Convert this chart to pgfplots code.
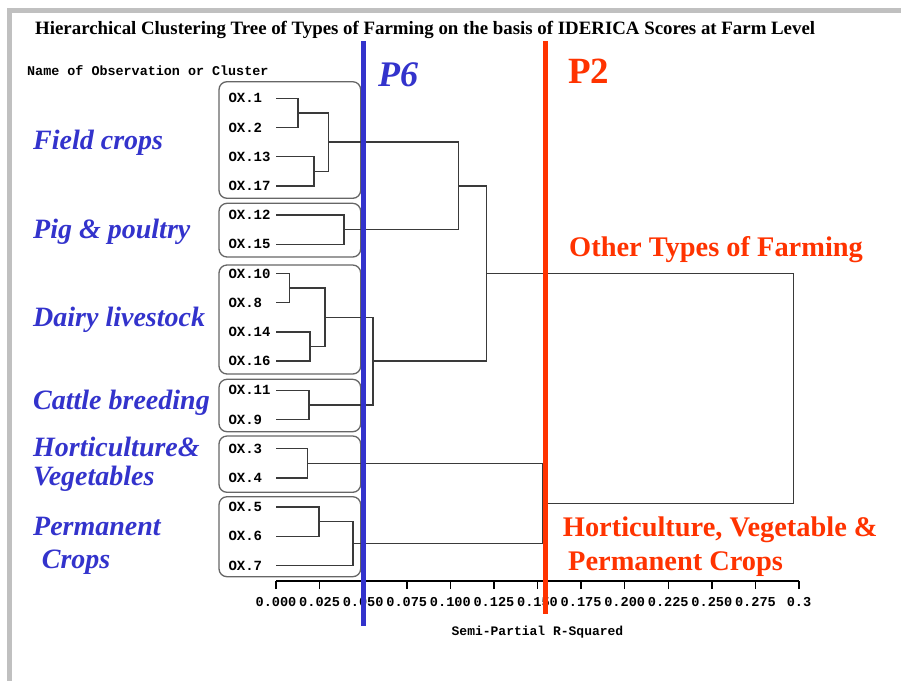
\documentclass[border=0pt]{standalone}
\usepackage{pgfplots}
\pgfplotsset{compat=1.18}
\usepackage{fontspec}
\setmainfont{Liberation Serif}
\newfontfamily\monof{Liberation Mono}
\definecolor{lblue}{HTML}{3333CC}
\definecolor{lred}{HTML}{FF3300}
\definecolor{framegray}{HTML}{C0C0C0}
\definecolor{tree}{HTML}{3A3A3A}
\pgfplotsset{dend/.style={tree, line width=1.4pt, mark=none, solid}}
\begin{document}
\begin{tikzpicture}
\begin{scope}[x=1pt,y=1pt]
\useasboundingbox (0,0) rectangle (901,-681);
\fill[white] (0,0) rectangle (901,-681);
\fill[framegray] (7,-8) rectangle (901,-13);
\fill[framegray] (7,-8) rectangle (12,-681);
\node[anchor=base west, inner sep=0, font=\fontsize{18.85}{18.85}\selectfont\bfseries] at (35,-34) {Hierarchical Clustering Tree of Types of Farming on the basis of IDERICA Scores at Farm Level};
\node[anchor=west, inner sep=0, font=\monof\bfseries\fontsize{13.4}{13.4}\selectfont] at (27,-71) {Name of Observation or Cluster};
% group boxes
\begin{scope}[rounded corners=8, line width=1.3, black!60]
\draw (219,-81.7) rectangle (360.7,-198.3);
\draw (219,-203.3) rectangle (360.7,-257);
\draw (219,-265) rectangle (360.7,-374);
\draw (219,-379.3) rectangle (360.7,-431.7);
\draw (219,-436) rectangle (360.7,-492.3);
\draw (219,-496.7) rectangle (360.7,-576.7);
\end{scope}
\end{scope}
\begin{axis}[at={(276pt,-581pt)}, anchor=south west, scale only axis,
  width=523pt, height=511.9pt,
  xmin=0, xmax=0.3, ymin=-1, ymax=16.53, y dir=reverse, clip=false,
  axis x line=bottom, axis y line=left,
  x axis line style={-, line width=2pt, black},
  y axis line style={draw=none},
  xtick={0,0.025,0.05,0.075,0.1,0.125,0.15,0.175,0.2,0.225,0.25,0.275,0.3},
  xticklabels={0.000,0.025,0.050,0.075,0.100,0.125,0.150,0.175,0.200,0.225,0.250,0.275,0.3},
  tick align=outside, major tick length=8pt,
  x tick style={line width=1.5pt, black},
  y tick style={draw=none},
  xticklabel style={font=\monof\bfseries\fontsize{13.6}{13.6}\selectfont, yshift=-5pt},
  ytick={0,1,2,3,4,5,6,7,8,9,10,11,12,13,14,15,16},
  yticklabels={OX.1,OX.2,OX.13,OX.17,OX.12,OX.15,OX.10,OX.8,OX.14,OX.16,OX.11,OX.9,OX.3,OX.4,OX.5,OX.6,OX.7},
  yticklabel style={anchor=west, xshift=-43pt, font=\monof\bfseries\fontsize{14}{14}\selectfont},
  xlabel={Semi-Partial R-Squared},
  xlabel style={font=\monof\bfseries\fontsize{13}{13}\selectfont, yshift=-12pt},
]
% A (OX.1, OX.2)
\addplot[dend] coordinates {(0,0) (0.0126,0) (0.0126,1) (0,1)};
% B (OX.13, OX.17)
\addplot[dend] coordinates {(0,2) (0.0218,2) (0.0218,3) (0,3)};
% C = A + B
\addplot[dend] coordinates {(0.0126,0.5) (0.030,0.5) (0.030,2.5) (0.0218,2.5)};
% D (OX.12, OX.15)
\addplot[dend] coordinates {(0,4) (0.039,4) (0.039,5) (0,5)};
% E = C + D
\addplot[dend] coordinates {(0.030,1.5) (0.1047,1.5) (0.1047,4.5) (0.039,4.5)};
% F (OX.10, OX.8)
\addplot[dend] coordinates {(0,6) (0.0076,6) (0.0076,7) (0,7)};
% G (OX.14, OX.16)
\addplot[dend] coordinates {(0,8) (0.0195,8) (0.0195,9) (0,9)};
% H = F + G
\addplot[dend] coordinates {(0.0076,6.5) (0.028,6.5) (0.028,8.5) (0.0195,8.5)};
% I (OX.11, OX.9)
\addplot[dend] coordinates {(0,10) (0.019,10) (0.019,11) (0,11)};
% J = H + I
\addplot[dend] coordinates {(0.028,7.5) (0.0556,7.5) (0.0556,10.5) (0.019,10.5)};
% K = E + J
\addplot[dend] coordinates {(0.1047,3) (0.1207,3) (0.1207,9) (0.0556,9)};
% L (OX.3, OX.4)
\addplot[dend] coordinates {(0,12) (0.0181,12) (0.0181,13) (0,13)};
% M (OX.5, OX.6)
\addplot[dend] coordinates {(0,14) (0.0247,14) (0.0247,15) (0,15)};
% N = M + OX.7
\addplot[dend] coordinates {(0.0247,14.5) (0.0442,14.5) (0.0442,16) (0,16)};
% O = L + N
\addplot[dend] coordinates {(0.0181,12.5) (0.1527,12.5) (0.1527,15.25) (0.0442,15.25)};
% P = K + O
\addplot[dend] coordinates {(0.1207,6) (0.297,6) (0.297,13.875) (0.1527,13.875)};
\end{axis}
\begin{scope}[x=1pt,y=1pt]
% cut lines
\draw[lblue, line width=5] (363,-41) -- (363,-626);
\draw[lred, line width=5] (545.5,-41) -- (545.5,-614);
% annotations
\begin{scope}[every node/.style={anchor=base west, inner sep=0}]
\node[lblue, font=\fontsize{36}{36}\selectfont\bfseries\itshape] at (378,-86.7) {P6};
\node[lred, font=\fontsize{37}{37}\selectfont\bfseries] at (568,-83) {P2};
\node[lred, font=\fontsize{28.4}{28.4}\selectfont\bfseries] at (569,-256) {Other Types of Farming};
\node[lred, font=\fontsize{28.4}{28.4}\selectfont\bfseries] at (562.7,-536.7) {Horticulture, Vegetable \&};
\node[lred, font=\fontsize{28.4}{28.4}\selectfont\bfseries] at (568,-570) {Permanent Crops};
\node[lblue, font=\fontsize{28}{28}\selectfont\bfseries\itshape] at (33,-149.3) {Field crops};
\node[lblue, font=\fontsize{28}{28}\selectfont\bfseries\itshape] at (33,-238.3) {Pig \& poultry};
\node[lblue, font=\fontsize{28}{28}\selectfont\bfseries\itshape] at (33,-326) {Dairy livestock};
\node[lblue, font=\fontsize{28}{28}\selectfont\bfseries\itshape] at (33,-409) {Cattle breeding};
\node[lblue, font=\fontsize{28}{28}\selectfont\bfseries\itshape] at (33,-456) {Horticulture\&};
\node[lblue, font=\fontsize{28}{28}\selectfont\bfseries\itshape] at (33,-485) {Vegetables};
\node[lblue, font=\fontsize{28}{28}\selectfont\bfseries\itshape] at (33,-535) {Permanent};
\node[lblue, font=\fontsize{28}{28}\selectfont\bfseries\itshape] at (41.7,-568.3) {Crops};
\end{scope}
\end{scope}
\end{tikzpicture}
\end{document}
